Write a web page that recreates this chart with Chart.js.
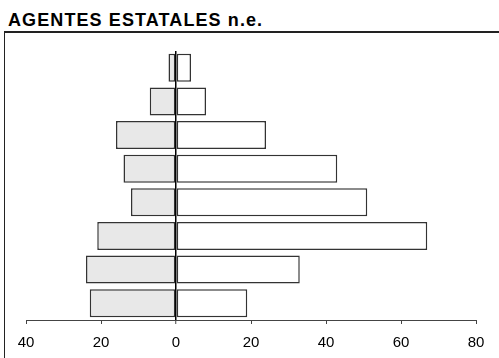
<!DOCTYPE html>
<html>
<head>
<meta charset="utf-8">
<script src="https://cdn.jsdelivr.net/npm/chart.js@4/dist/chart.umd.min.js"></script>
<style>
  body { margin: 0; background: #fff; overflow: hidden; }
  #wrap { position: relative; width: 499px; height: 358px; overflow: hidden; }
  #title {
    position: absolute; left: 8px; top: 11px;
    font: bold 18px "Liberation Sans", Arial, sans-serif;
    line-height: 1; letter-spacing: 1.1px; color: #000; white-space: nowrap;
  }
  #frame {
    position: absolute; left: 4px; top: 31px; right: 0; bottom: 0;
    border-left: 1.5px solid #222; border-top: 2px solid #222;
  }
  #box { position: absolute; left: 0; top: 0; width: 499px; height: 361px; }
</style>
</head>
<body>
<div id="wrap">
  <div id="title">AGENTES ESTATALES n.e.</div>
  <div id="frame"></div>
  <div id="box"><canvas id="pyramidChart"></canvas></div>
</div>
<script>
// grupos de cima para baixo
var grupos = ['G1', 'G2', 'G3', 'G4', 'G5', 'G6', 'G7', 'G8'];
var ladoEsquerdo = [2, 7, 16, 14, 12, 21, 24, 23];   // barras cinzas (eixo negativo)
var ladoDireito = [4, 8, 24, 43, 51, 67, 33, 19];    // barras brancas
var ticksX = [-40, -20, 0, 20, 40, 60, 80];

var ctx = document.getElementById('pyramidChart');

new Chart(ctx, {
    type: 'bar',
    data: {
        labels: grupos,
        datasets: [{
            label: 'esquerda',
            data: ladoEsquerdo.map(function(v) { return -v; }),
            backgroundColor: '#e8e8e8',
            borderColor: '#333',
            borderWidth: 1.5,
            borderSkipped: false
        }, {
            label: 'direita',
            data: ladoDireito,
            backgroundColor: '#ffffff',
            borderColor: '#333',
            borderWidth: 1.5,
            borderSkipped: false
        }]
    },
    options: {
        indexAxis: 'y',
        responsive: true,
        maintainAspectRatio: false,
        animation: false,
        layout: { padding: { left: 26, right: 23, top: 51, bottom: 0 } },
        datasets: { bar: { categoryPercentage: 1, barPercentage: 0.83 } },
        plugins: {
            legend: { display: false },
            tooltip: { enabled: false }
        },
        scales: {
            y: { display: false, stacked: true },
            x: {
                stacked: true,
                min: ticksX[0],
                max: ticksX[ticksX.length - 1],
                z: 1,
                afterBuildTicks: function(axis) {
                    axis.ticks = ticksX.map(function(v) { return { value: v }; });
                },
                border: { display: true, color: '#444', width: 1 },
                grid: {
                    drawOnChartArea: true,
                    color: function(c) { return c.tick && c.tick.value === 0 ? '#000' : 'rgba(0,0,0,0)'; },
                    lineWidth: function(c) { return c.tick && c.tick.value === 0 ? 1.5 : 1; },
                    tickColor: '#444',
                    tickWidth: 1,
                    tickLength: 4
                },
                ticks: {
                    color: '#000',
                    padding: 9.5,
                    font: { family: '"Liberation Sans", Arial, sans-serif', size: 15 },
                    callback: function(v) { return Math.abs(v); }
                }
            }
        }
    }
});
</script>
</body>
</html>
